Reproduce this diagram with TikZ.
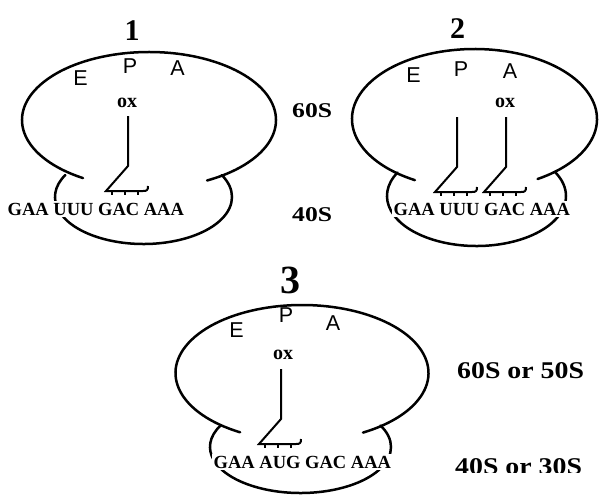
\documentclass[tikz,border=0pt]{standalone}
\usepackage{fontspec}
\setmainfont{Liberation Serif}
\newfontfamily\sitefont{Liberation Sans}
\begin{document}
\begin{tikzpicture}[x=1pt,y=-1pt,
  shell/.style={line width=2.5pt, line cap=round},
  trnaline/.style={line width=2pt, line join=miter},
  notch/.style={line width=1.3pt},
  site/.style={font=\sitefont\fontsize{21.5}{21.5}\selectfont, inner sep=0pt},
  oxlabel/.style={font=\bfseries\fontsize{20}{20}\selectfont, inner sep=0pt},
  codons/.style={font=\bfseries\fontsize{18.5}{18.5}\selectfont, fill=white, inner sep=1.5pt, anchor=base west},
  unitlabel/.style={font=\bfseries\fontsize{21}{21}\selectfont, inner sep=0pt, anchor=base west},
  pairlabel/.style={font=\bfseries\fontsize{24}{24}\selectfont, inner sep=0pt, anchor=base west},
  stage/.style={font=\bfseries\fontsize{30}{30}\selectfont, inner sep=0pt},
  trna/.pic={
    \draw[trnaline] (0,0) -- (0,50) -- (-22,75) -- (15,75)
      .. controls (19,75) and (20,74) .. (20,70);
    \foreach \t in {-16,-3,10} \draw[notch] (\t,75) -- (\t,79);
  }
]
\fill[white] (0,0) rectangle (605,496);
\useasboundingbox (0,0) rectangle (605,496);

% ---------- ribosome 1 ----------
\begin{scope}[shift={(149,120)}]
  \draw[shell] (238.7:127pt and 68pt) arc[start angle=238.7, end angle=-62.8, x radius=127pt, y radius=68pt];
\end{scope}
\begin{scope}[shift={(143.5,197)}]
  \draw[shell] (152:88.5pt and 47pt) arc[start angle=152, end angle=388, x radius=88.5pt, y radius=47pt];
\end{scope}
\node[stage] (n1) at (132,31) {1};
\node[site] (e1) at (80.5,78.5) {E};
\node[site] (p1) at (130,66.5) {P};
\node[site] (a1) at (177.5,68) {A};
\node[oxlabel] (ox1) at (127,103) {ox};
\node[codons] (m1) at (6,215) {GAA UUU GAC AAA};
\pic (t1) at (128,116) {trna};
\node[unitlabel] (l60) at (292,117) {\scalebox{1.22}[1]{60S}};
\node[unitlabel] (l40) at (292,221) {\scalebox{1.22}[1]{40S}};

% ---------- ribosome 2 ----------
\begin{scope}[shift={(474.5,119)}]
  \draw[shell] (240.9:122.5pt and 70pt) arc[start angle=240.9, end angle=-59, x radius=122.5pt, y radius=70pt];
\end{scope}
\begin{scope}[shift={(476.5,196)}]
  \draw[shell] (152:89.5pt and 50pt) arc[start angle=152, end angle=388, x radius=89.5pt, y radius=50pt];
\end{scope}
\node[stage] (n2) at (457.5,28.5) {2};
\node[site] (e2) at (413.5,75.5) {E};
\node[site] (p2) at (461,69.5) {P};
\node[site] (a2) at (510,71.5) {A};
\node[oxlabel] (ox2) at (505,102.5) {ox};
\node[codons] (m2) at (392,215) {GAA UUU GAC AAA};
\pic (t2a) at (457,117) {trna};
\pic (t2b) at (506,117) {trna};

% ---------- ribosome 3 ----------
\begin{scope}[shift={(302,373)}]
  \draw[shell] (240.7:126.5pt and 68pt) arc[start angle=240.7, end angle=-61.2, x radius=126.5pt, y radius=68pt];
\end{scope}
\begin{scope}[shift={(300.5,447)}]
  \draw[shell] (152:90.5pt and 46pt) arc[start angle=152, end angle=388, x radius=90.5pt, y radius=46pt];
\end{scope}
\node[stage, font=\bfseries\fontsize{40}{40}\selectfont] (n3) at (290,280) {3};
\node[site] (e3) at (236.5,330) {E};
\node[site] (p3) at (286,315.5) {P};
\node[site] (a3) at (333,323.5) {A};
\node[oxlabel] (ox3) at (283,355) {ox};
\node[codons] (m3) at (212,468) {GAA AUG GAC AAA};
\pic (t3) at (281,369) {trna};
\node[pairlabel] (l6050) at (457,378) {\scalebox{1.16}[1]{60S or 50S}};
\begin{scope}
  \clip (440,440) rectangle (605,472);
  \node[pairlabel] (l4030) at (455,474) {\scalebox{1.16}[1]{40S or 30S}};
\end{scope}
\end{tikzpicture}
\end{document}
